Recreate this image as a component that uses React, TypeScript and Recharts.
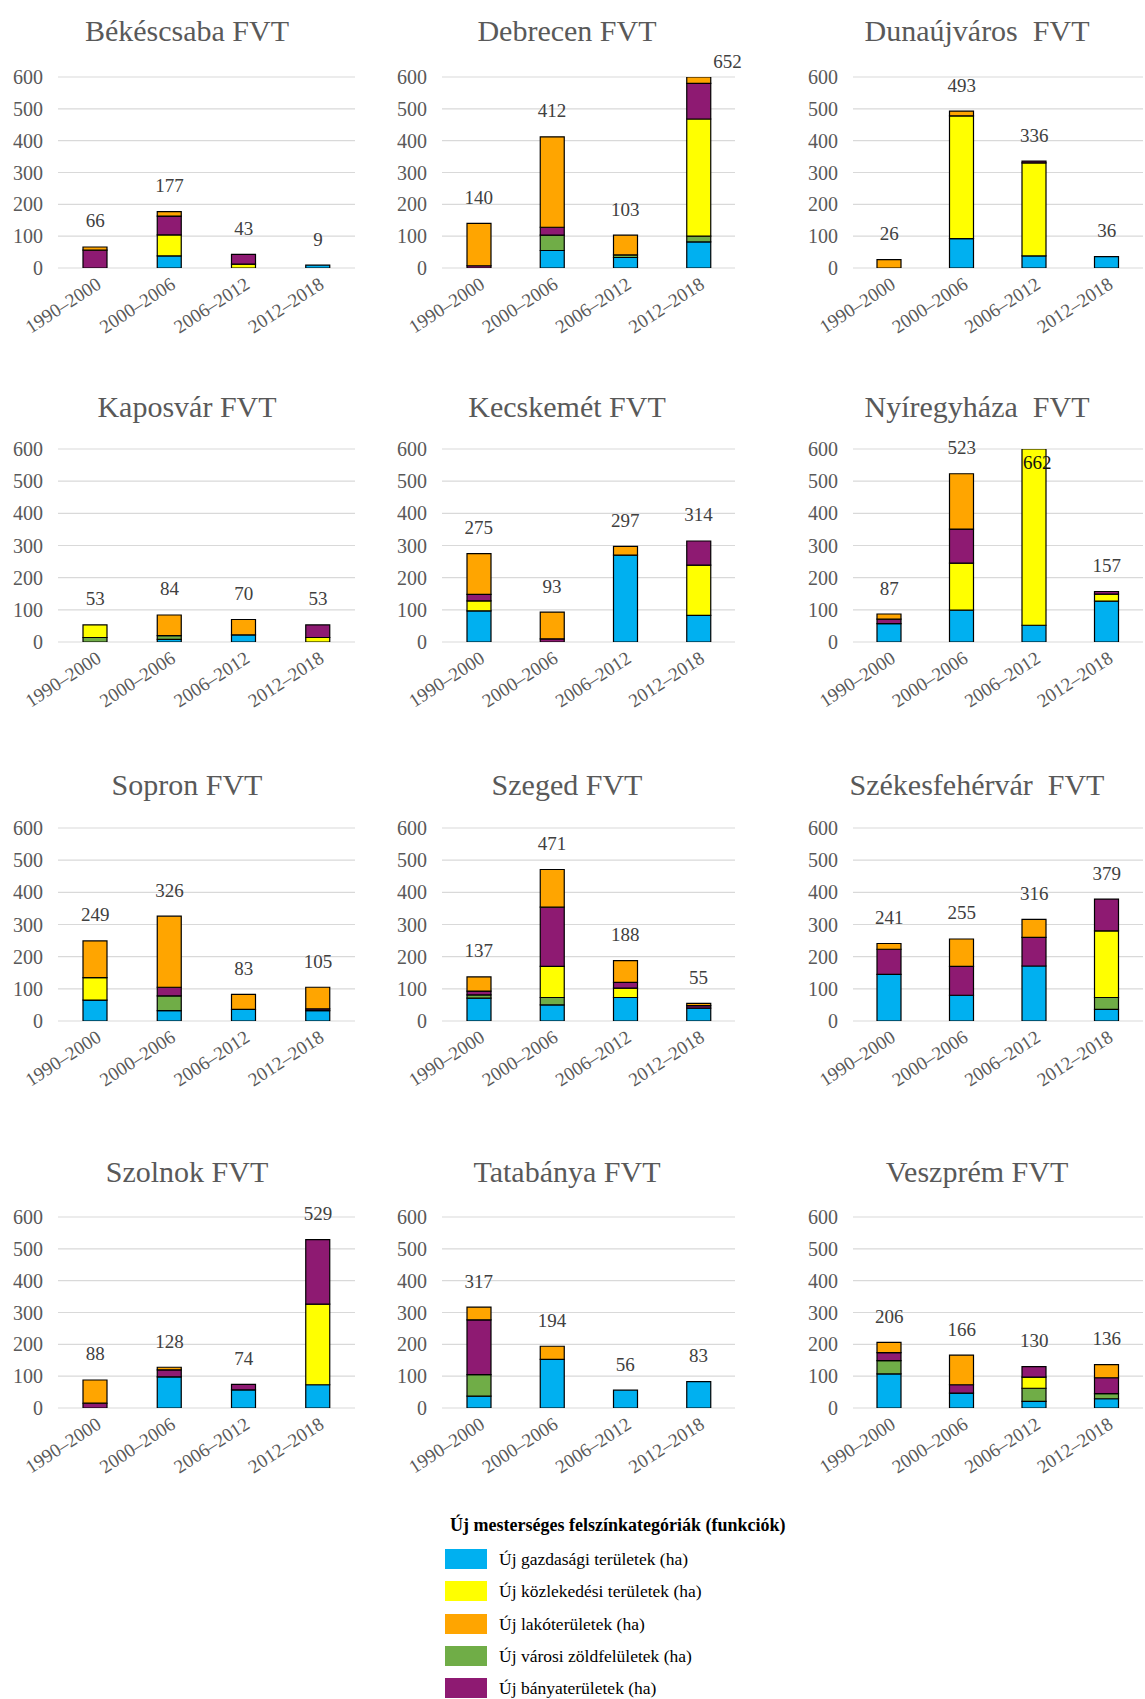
import React from "react";
import { ComposedChart, Bar, Line, XAxis, YAxis, CartesianGrid } from "recharts";

const FONT = '"Liberation Serif", "Times New Roman", serif';

const periods = ["1990–2000", "2000–2006", "2006–2012", "2012–2018"];
const cities = [
  "Békéscsaba FVT", "Debrecen FVT", "Dunaújváros  FVT",
  "Kaposvár FVT", "Kecskemét FVT", "Nyíregyháza  FVT",
  "Sopron FVT", "Szeged FVT", "Székesfehérvár  FVT",
  "Szolnok FVT", "Tatabánya FVT", "Veszprém FVT",
];

// Új gazdasági területek (ha)
const gazdasagi = [
  [0, 38, 0, 9], [0, 55, 33, 82], [0, 92, 38, 36],
  [0, 8, 22, 0], [97, 0, 270, 83], [57, 99, 52, 127],
  [65, 32, 36, 32], [71, 50, 73, 40], [145, 80, 171, 36],
  [0, 98, 57, 73], [37, 153, 56, 83], [107, 47, 21, 29],
];
// Új városi zöldfelületek (ha)
const zoldfelulet = [
  [0, 0, 0, 0], [0, 48, 8, 18], [0, 0, 0, 0],
  [14, 12, 0, 0], [0, 0, 0, 0], [0, 0, 0, 0],
  [0, 46, 0, 0], [10, 23, 0, 0], [0, 0, 0, 37],
  [0, 0, 0, 0], [68, 0, 0, 0], [42, 0, 41, 16],
];
// Új közlekedési területek (ha)
const kozlekedesi = [
  [0, 66, 12, 0], [0, 0, 0, 368], [0, 386, 292, 0],
  [39, 0, 0, 14], [31, 0, 0, 156], [0, 146, 610, 22],
  [70, 0, 0, 0], [0, 97, 29, 0], [0, 0, 0, 207],
  [0, 0, 0, 253], [0, 0, 0, 0], [0, 0, 35, 0],
];
// Új bányaterületek (ha)
const banya = [
  [56, 59, 31, 0], [7, 25, 0, 112], [0, 0, 6, 0],
  [0, 0, 0, 39], [20, 10, 0, 75], [14, 106, 0, 8],
  [0, 27, 0, 6], [12, 184, 18, 8], [78, 90, 89, 99],
  [15, 22, 17, 203], [172, 0, 0, 0], [25, 26, 33, 50],
];
// Új lakóterületek (ha)
const lako = [
  [10, 14, 0, 0], [133, 284, 62, 72], [26, 15, 0, 0],
  [0, 64, 48, 0], [127, 83, 27, 0], [16, 172, 0, 0],
  [114, 221, 47, 67], [44, 117, 68, 7], [18, 85, 56, 0],
  [73, 8, 0, 0], [40, 41, 0, 0], [32, 93, 0, 41],
];

const yTicks = [0, 100, 200, 300, 400, 500, 600];

const legendTitle = "Új mesterséges felszínkategóriák (funkciók)";
const legendItems = [
  { label: "Új gazdasági területek (ha)", color: "#00B0F0" },
  { label: "Új közlekedési területek (ha)", color: "#FFFF00" },
  { label: "Új lakóterületek (ha)", color: "#FFA500" },
  { label: "Új városi zöldfelületek (ha)", color: "#70AD47" },
  { label: "Új bányaterületek (ha)", color: "#8E1A72" },
];

// stacking order bottom -> top
const SERIES = [
  { key: "gazd", src: gazdasagi, color: "#00B0F0" },
  { key: "zold", src: zoldfelulet, color: "#70AD47" },
  { key: "kozl", src: kozlekedesi, color: "#FFFF00" },
  { key: "banya", src: banya, color: "#8E1A72" },
  { key: "lako", src: lako, color: "#FFA500" },
];

const COLS = [
  { left: 58, right: 355, titleX: 187 },
  { left: 442, right: 735, titleX: 567 },
  { left: 853, right: 1143, titleX: 977 },
];
const ROWS = [
  { top: 77, bottom: 268, titleY: 31 },
  { top: 449, bottom: 642, titleY: 407 },
  { top: 828, bottom: 1021, titleY: 785 },
  { top: 1217, bottom: 1408, titleY: 1172 },
];

const Y_W = 60;
const M_TOP = 40;
const M_RIGHT = 30;
const X_H = 110;

// placement of total labels for bars that exceed the axis maximum
const OVERFLOW_LABEL: Record<number, { dx: number; dy: number; color: string }> = {
  1: { dx: 29, dy: -16, color: "#404040" },
  5: { dx: 3, dy: 13, color: "#111" },
};

const XTick = (props: any) => {
  const { x, y, payload } = props;
  return (
    <g transform={`translate(${x},${y})`}>
      <text x={0} y={0} dy="0.71em" textAnchor="end" transform="rotate(-33)"
        fontSize={19} fontFamily={FONT} fill="#595959">{payload.value}</text>
    </g>
  );
};

const YTick = (props: any) => {
  const { x, y, payload } = props;
  return (
    <text x={x} y={y} dy="0.355em" textAnchor="end" fontSize={20} fontFamily={FONT} fill="#595959">
      {payload.value}
    </text>
  );
};

function Panel({ idx }: { idx: number }) {
  const c = COLS[idx % 3];
  const r = ROWS[Math.floor(idx / 3)];
  const data = periods.map((p, i) => {
    const row: any = { period: p };
    let total = 0;
    SERIES.forEach((s) => {
      row[s.key] = s.src[idx][i];
      total += s.src[idx][i];
    });
    row.total = total;
    return row;
  });
  const plotW = c.right - c.left;
  const plotH = r.bottom - r.top;
  const width = plotW + Y_W + M_RIGHT;
  const height = M_TOP + plotH + X_H;

  const renderTotal = (p: any) => {
    const { x, y, value, index } = p;
    if (value > 600 && OVERFLOW_LABEL[idx]) {
      const o = OVERFLOW_LABEL[idx];
      return (
        <text key={`t${index}`} x={x + o.dx} y={M_TOP + o.dy} textAnchor="middle" dominantBaseline="central"
          fontSize={19} fontFamily={FONT} fill={o.color}>{value}</text>
      );
    }
    return (
      <text key={`t${index}`} x={x} y={y - 26} textAnchor="middle" dominantBaseline="central"
        fontSize={19} fontFamily={FONT} fill="#404040">{value}</text>
    );
  };

  return (
    <>
      <div
        style={{
          position: "absolute", left: c.titleX - 200, width: 400, top: r.titleY - 18,
          height: 36, lineHeight: "36px", textAlign: "center", fontSize: 30,
          color: "#595959", whiteSpace: "pre", fontFamily: FONT,
        }}
      >
        {cities[idx]}
      </div>
      <div style={{ position: "absolute", left: c.left - Y_W, top: r.top - M_TOP }}>
        <ComposedChart width={width} height={height} data={data}
          margin={{ top: M_TOP, right: M_RIGHT, left: 0, bottom: 0 }}
          style={{ fontFamily: FONT }}>
          <CartesianGrid vertical={false} stroke="#d9d9d9" strokeWidth={1.2} />
          <XAxis dataKey="period" interval={0} axisLine={false} tickLine={false} height={X_H}
            tickMargin={2} tick={<XTick />} />
          <YAxis domain={[0, 600]} ticks={yTicks} allowDataOverflow width={Y_W}
            axisLine={false} tickLine={false} tickMargin={9} tick={<YTick />} />
          {SERIES.map((s) => (
            <Bar key={s.key} dataKey={s.key} stackId="a" fill={s.color} stroke="#000"
              strokeWidth={1.2} barSize={24} isAnimationActive={false} />
          ))}
          <Line dataKey="total" stroke="none" dot={false} activeDot={false}
            isAnimationActive={false} label={renderTotal} />
        </ComposedChart>
      </div>
    </>
  );
}

function LegendBlock() {
  return (
    <>
      <div style={{
        position: "absolute", left: 450, top: 1513, height: 24, lineHeight: "24px",
        fontSize: 18, fontWeight: "bold", fontFamily: FONT, color: "#000", whiteSpace: "nowrap",
      }}>{legendTitle}</div>
      {legendItems.map((it, i) => {
        const cy = 1559 + i * 32.3;
        return (
          <React.Fragment key={it.label}>
            <div style={{
              position: "absolute", left: 445, top: cy - 10, width: 42, height: 20,
              background: it.color,
            }} />
            <div style={{
              position: "absolute", left: 499, top: cy - 12, height: 24, lineHeight: "24px",
              fontSize: 17.5, fontFamily: FONT, color: "#000", whiteSpace: "nowrap",
            }}>{it.label}</div>
          </React.Fragment>
        );
      })}
    </>
  );
}

export default function App() {
  return (
    <div style={{
      position: "absolute", left: 0, top: 0, width: 1145, height: 1699,
      overflow: "hidden", background: "#fff",
    }}>
      {cities.map((_, i) => <Panel key={i} idx={i} />)}
      <LegendBlock />
    </div>
  );
}
